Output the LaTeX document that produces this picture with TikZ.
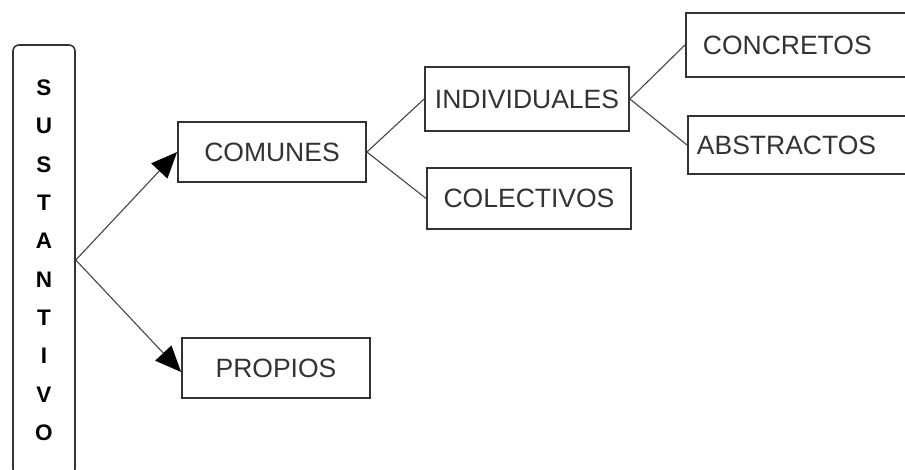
\documentclass[tikz,border=0pt]{standalone}
\usepackage{fontspec}
\setmainfont{Liberation Sans}
\usetikzlibrary{arrows.meta}
\definecolor{ink}{HTML}{333333}
\definecolor{linec}{HTML}{454545}
\begin{document}
\begin{tikzpicture}[x=1pt,y=-1pt,
  box/.style={draw=ink,line width=1.8pt,text=ink,inner sep=0pt,
    font=\fontsize{26.5}{30}\selectfont},
  rightbox/.style={box,anchor=west,align=left,minimum height=#1},
  letter/.style={inner sep=0pt,text=black,font=\fontsize{22.5}{26}\selectfont\bfseries},
  conn/.style={draw=linec,line width=1.1pt},
  arr/.style={conn,-{Triangle[length=26pt,width=22pt,fill=black,color=black]}}]
\useasboundingbox (0,0) rectangle (905,470);
\fill[white] (0,0) rectangle (905,470);
% vertical box
\node[draw=ink,line width=1.6pt,rounded corners=6pt,minimum width=62pt,minimum height=430pt,inner sep=0pt] (sust) at (44,260) {};
\foreach \l [count=\i] in {S,U,S,T,A,N,T,I,V,O}
  \node[letter] (L\i) at (44,{88+(\i-1)*38.3}) {\l};
% boxes
\node[box,minimum width=188pt,minimum height=60pt] (comunes) at (272,152) {COMUNES};
\node[box,minimum width=188pt,minimum height=60pt] (propios) at (276,368) {PROPIOS};
\node[box,minimum width=204pt,minimum height=64pt] (indiv) at (527,99) {INDIVIDUALES};
\node[box,minimum width=204pt,minimum height=61pt] (colect) at (529,198.5) {COLECTIVOS};
\node[rightbox=64pt,inner xsep=17pt,text width=205pt] (concr) at (685,45) {CONCRETOS};
\node[rightbox=58pt,inner xsep=9pt,text width=215pt] (abstr) at (687,145) {ABSTRACTOS};
% connectors
\draw[arr] (sust.east) -- (comunes.west);
\draw[arr] (sust.east) -- ([yshift=-4pt]propios.west);
\draw[conn] (comunes.east) -- (indiv.west);
\draw[conn] (comunes.east) -- (colect.west);
\draw[conn] (indiv.east) -- (concr.west);
\draw[conn] (indiv.east) -- (abstr.west);
\end{tikzpicture}
\end{document}
